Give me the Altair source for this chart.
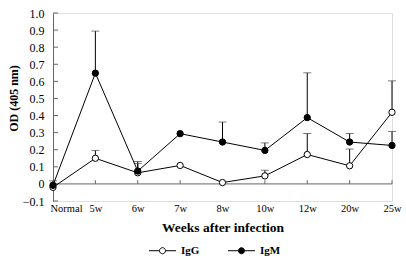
import altair as alt
import pandas as pd

weeks = ["Normal", "5w", "6w", "7w", "8w", "10w", "12w", "20w", "25w"]
igg = [-0.02, 0.15, 0.065, 0.108, 0.008, 0.047, 0.172, 0.106, 0.419]
igg_top = [None, 0.196, 0.12, None, None, 0.08, 0.295, 0.204, 0.603]
igm = [-0.008, 0.648, 0.075, 0.294, 0.245, 0.196, 0.388, 0.245, 0.225]
igm_top = [0.018, 0.894, 0.131, None, 0.362, 0.24, 0.65, 0.295, 0.307]
y_ticks = [-0.1, 0, 0.1, 0.2, 0.3, 0.4, 0.5, 0.6, 0.7, 0.8, 0.9, 1.0]
series = ["IgG", "IgM"]

rows = []
for name, vals, tops in [("IgG", igg, igg_top), ("IgM", igm, igm_top)]:
    for w, v, t in zip(weeks, vals, tops):
        rows.append({"week": w, "series": name, "od": v, "top": t})
df = pd.DataFrame(rows)
err = df.dropna(subset=["top"])

W, H = 339, 188
FONT = "Liberation Serif"
AX = "#666666"

xs = alt.Scale(type="point", domain=weeks, padding=0)
ys = alt.Scale(domain=[-0.1, 1.0], nice=False, zero=False)

xaxis = alt.Axis(title="Weeks after infection", domain=False, ticks=False,
                 labelAngle=0, labelPadding=2, labelOverlap=False,
                 labelAlign=alt.expr("datum.value == 'Normal' ? 'left' : 'center'"),
                 labelOffset=alt.expr("datum.value == 'Normal' ? -3 : 0"),
                 labelFont=FONT, labelFontSize=10.5, labelColor="black",
                 titleFont=FONT, titleFontSize=13.5, titleFontWeight="bold",
                 titleColor="black", titlePadding=7)
yaxis = alt.Axis(title="OD (405 nm)", values=y_ticks, grid=False, ticks=False,
                 domainColor=AX, labelPadding=9,
                 labelExpr="datum.value == 0 ? '0' : format(datum.value, '.1f')",
                 labelFont=FONT, labelFontSize=12, labelColor="black",
                 titleFont=FONT, titleFontSize=12, titleFontWeight="bold",
                 titleColor="black", titlePadding=2, titleY=85)


def X(field):
    return alt.X(field, type="nominal", scale=xs, sort=weeks, axis=xaxis)


def Y(field):
    return alt.Y(field, type="quantitative", scale=ys, axis=yaxis)


base = alt.Chart(df)

lines = base.mark_line(color="black", strokeWidth=1).encode(
    x=X("week"), y=Y("od"), detail="series:N"
)

zero_line = alt.Chart(pd.DataFrame({"od": [0]})).mark_rule(color=AX, strokeWidth=1).encode(
    y=Y("od"), x=alt.value(0), x2=alt.value(W)
)

xtick_df = pd.DataFrame({"week": weeks[1:], "od": [0] * 8, "hi": [0.022] * 8})
xticks = alt.Chart(xtick_df).mark_rule(color=AX, strokeWidth=1).encode(
    x=X("week"), y=Y("od"), y2="hi:Q"
)

ytick_df = pd.DataFrame({"od": y_ticks})
yticks = alt.Chart(ytick_df).mark_rule(color=AX, strokeWidth=1).encode(
    y=Y("od"), x=alt.value(0), x2=alt.value(5)
)

err_rules = alt.Chart(err).mark_rule(color="black", strokeWidth=1).encode(
    x=X("week"), y=Y("od"), y2="top:Q"
)
caps = alt.Chart(err).mark_tick(orient="horizontal", size=8, thickness=1, color="#444444").encode(
    x=X("week"), y=Y("top")
)

points = base.mark_point(shape="circle", filled=True, size=40, stroke="black",
                         strokeWidth=1, opacity=1).encode(
    x=X("week"),
    y=Y("od"),
    fill=alt.Fill("series:N", scale=alt.Scale(domain=series, range=["white", "black"]),
                  legend=alt.Legend(title=None, orient="none", direction="horizontal",
                                    legendX=102, legendY=230, padding=0,
                                    symbolType="M-2,0H-0.5M0.5,0H2M-0.45,0a0.45,0.45 0 1,0 0.9,0a0.45,0.45 0 1,0 -0.9,0",
                                    symbolSize=182, symbolStrokeColor="black",
                                    symbolStrokeWidth=1, symbolOpacity=1,
                                    labelOffset=11, columnPadding=26,
                                    labelFont=FONT, labelFontSize=11,
                                    labelFontWeight="bold", labelColor="black")),
)

chart = alt.layer(zero_line, xticks, yticks, err_rules, caps, lines, points).properties(
    width=W, height=H,
    autosize=alt.AutoSizeParams(type="none"),
    padding={"left": 53, "top": 13, "right": 14, "bottom": 58},
).configure_view(stroke=None).configure(background="white")

chart.save("out.html", embed_options={"renderer": "svg", "actions": False})
